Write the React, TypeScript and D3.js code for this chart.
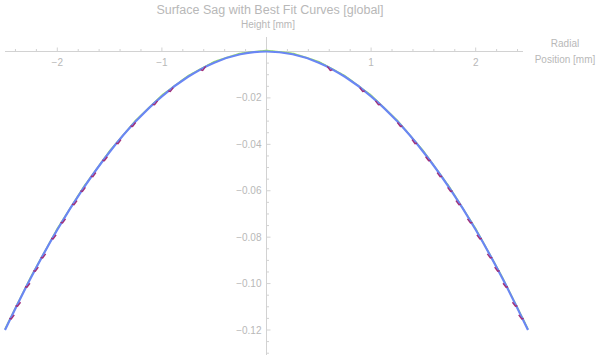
import React from "react";
import * as d3 from "d3";

const radialPos = [-2.5, -2.25, -2.0, -1.75, -1.5, -1.25, -1.0, -0.75, -0.5, -0.25, 0, 0.25, 0.5, 0.75, 1.0, 1.25, 1.5, 1.75, 2.0, 2.25, 2.5];
const sagValues = [-0.12, -0.0973, -0.0768, -0.0589, -0.0433, -0.0301, -0.0193, -0.0109, -0.0048, -0.0012, 0, -0.0012, -0.0048, -0.0109, -0.0193, -0.0301, -0.0433, -0.0589, -0.0768, -0.0973, -0.12];
const notchRadii = [0.61, 0.92, 1.07, 1.28, 1.42, 1.55, 1.66, 1.76, 1.84, 1.95, 2.04, 2.14, 2.21, 2.29, 2.38, 2.44];
const xTicks = [-2, -1, 1, 2];
const yTicks = [-0.02, -0.04, -0.06, -0.08, -0.1, -0.12];

const W = 600, H = 359;
const x = d3.scaleLinear().domain([-2.5, 2.5]).range([5, 528]);
const y = d3.scaleLinear().domain([0, -0.12]).range([51.5, 330]);
const sagAt = d3.scaleLinear().domain(radialPos).range(sagValues);

const font = "'Liberation Sans', Arial, sans-serif";
const grey = "#b8b8b8";
const axisColor = "#d2d2d2";

export default function App() {
  const pts: [number, number][] = radialPos.map((r, i) => [r, sagValues[i]]);
  const line = d3.line<[number, number]>().x(d => x(d[0])).y(d => y(d[1])).curve(d3.curveCatmullRom);
  const path = line(pts) || "";
  const fine = d3.range(-2.5, 2.5001, 0.02);
  const greenLine = d3.line<number>().x(r => x(r)).y(r => y(sagAt(r)) - 1).curve(d3.curveCatmullRom);
  const xMinor = d3.range(-2.4, 2.41, 0.2).filter(v => Math.abs(v) > 1e-6);
  const yMinor = d3.range(-0.005, -0.1351, -0.005);
  const notches = notchRadii.flatMap(r => [r, -r]);
  return (
    <svg width={W} height={H} style={{ position: "absolute", left: 0, top: 0, background: "#fff" }}>
      <text x={270} y={14} textAnchor="middle" fontFamily={font} fontSize={12.5} fill={grey}>Surface Sag with Best Fit Curves [global]</text>
      <text x={268} y={28} textAnchor="middle" fontFamily={font} fontSize={10} fill={grey}>Height [mm]</text>
      <text x={565} y={47} textAnchor="middle" fontFamily={font} fontSize={10} fill={grey}>Radial</text>
      <text x={565} y={63} textAnchor="middle" fontFamily={font} fontSize={10} fill={grey}>Position [mm]</text>
      <line x1={5} x2={523} y1={y(0)} y2={y(0)} stroke={axisColor} strokeWidth={1} />
      {xMinor.map((v, i) => {
        const major = Math.abs(v - Math.round(v)) < 1e-6;
        return <line key={i} x1={x(v)} x2={x(v)} y1={y(0)} y2={y(0) - (major ? 4 : 2.5)} stroke={axisColor} strokeWidth={1} />;
      })}
      {xTicks.map(v => (
        <text key={v} x={x(v)} y={66} textAnchor="middle" fontFamily={font} fontSize={10} fill={grey}>{v < 0 ? "\u2212" + Math.abs(v) : v}</text>
      ))}
      <line x1={x(0)} x2={x(0)} y1={37} y2={355} stroke={axisColor} strokeWidth={1} />
      {yMinor.map((v, i) => {
        const major = Math.abs(v / 0.02 - Math.round(v / 0.02)) < 1e-6;
        return <line key={i} x1={x(0)} x2={x(0) + (major ? 4 : 2.5)} y1={y(v)} y2={y(v)} stroke={axisColor} strokeWidth={1} />;
      })}
      {yTicks.map(v => (
        <text key={v} x={x(0) - 5} y={y(v) + 3.5} textAnchor="end" fontFamily={font} fontSize={10} fill={grey}>{"\u2212" + Math.abs(v).toFixed(2)}</text>
      ))}
      <path d={greenLine(fine) || ""} fill="none" stroke="#9be35a" strokeWidth={1.6} />
      <path d={path} fill="none" stroke="#6a86f4" strokeWidth={2.2} />
      {notches.map((r, i) => {
        const cx = x(r), cy = y(sagAt(r));
        const dir = r > 0 ? 1 : -1;
        return (
          <polyline key={i} points={`${cx - dir * 3},${cy - 2.5} ${cx},${cy + 1.5} ${cx + dir * 2},${cy + 1}`} fill="none" stroke="#a0307a" strokeWidth={1.4} />
        );
      })}
    </svg>
  );
}
